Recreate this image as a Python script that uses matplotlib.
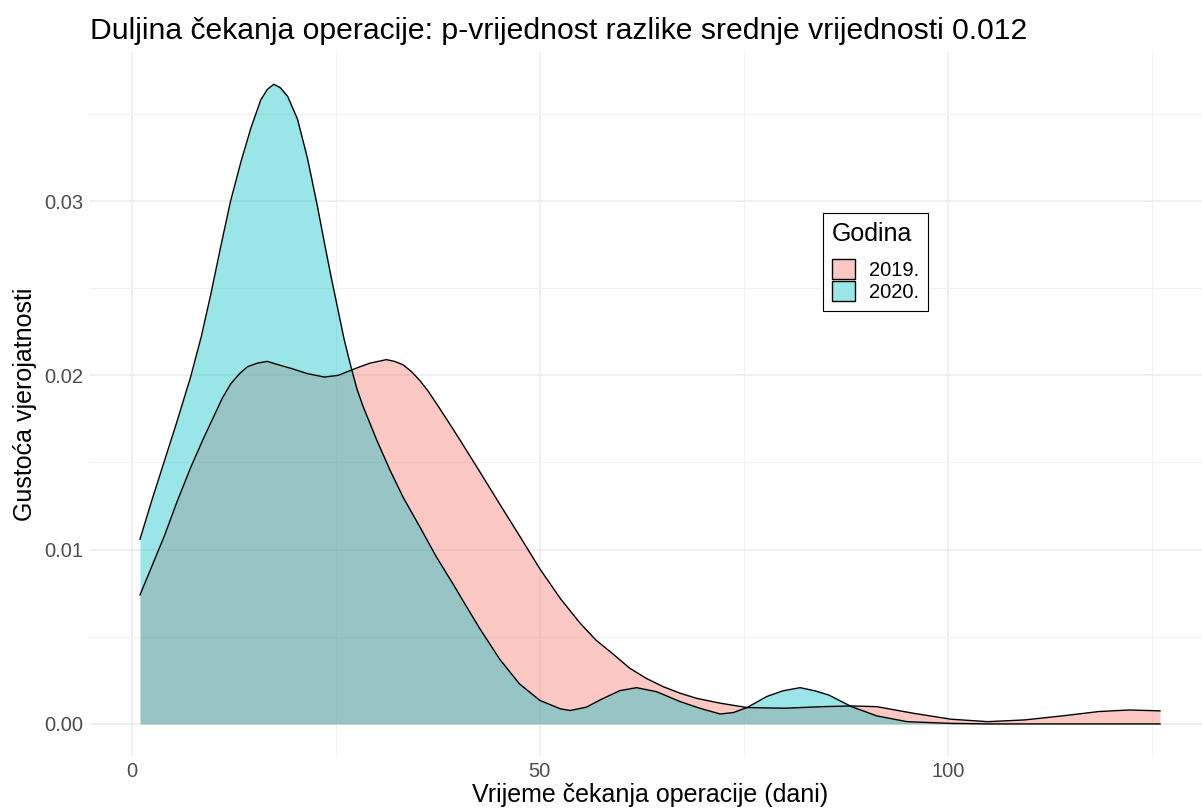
import matplotlib.pyplot as plt
from matplotlib.colors import to_rgba
from matplotlib.patches import Patch

plt.rcParams['font.family'] = ['Liberation Sans', 'DejaVu Sans']

# density curves (x = days, y = density)
x_2019 = [1, 2.5, 4, 5.5, 7.2, 8.7, 10.1, 11.1, 12.1, 13.2, 14.2, 15.4, 16.6, 18.0,
          19.5, 21.5, 23.6, 25.3, 26.9, 28.0, 29.2, 30.2, 31.2, 32.2, 33.25, 34.3,
          35.3, 36.3, 37.3, 38.7, 40.2, 42.6, 45.1, 47.5, 50, 52.5, 54.9, 56.9,
          59.0, 61.0, 63.1, 65.1, 67.2, 69.2, 72.1, 75.4, 80, 84.6, 88.2, 91.3,
          95.8, 100.4, 104.9, 109.4, 114, 118.5, 122.2, 126]
y_2019 = [0.0074, 0.0091, 0.0108, 0.0127, 0.0147, 0.0163, 0.0177, 0.0187, 0.0195,
          0.0201, 0.0205, 0.0207, 0.0208, 0.0206, 0.0204, 0.0201, 0.0199, 0.0200,
          0.0203, 0.0205, 0.0207, 0.0208, 0.0209, 0.0208, 0.0206, 0.0202, 0.0197,
          0.0191, 0.0184, 0.0174, 0.0163, 0.0145, 0.0126, 0.0108, 0.0089, 0.0072,
          0.0058, 0.0048, 0.0040, 0.0032, 0.0026, 0.00214, 0.00176, 0.00147,
          0.00119, 0.00094, 0.0009, 0.00099, 0.00103, 0.00099, 0.00061, 0.00027,
          0.00013, 0.00023, 0.00046, 0.00071, 0.0008, 0.00075]

x_2020 = [1, 2.5, 4, 5.5, 7.2, 8.5, 9.7, 10.9, 12.1, 13.4, 14.6, 15.8, 16.6, 17.4,
          18.2, 19.1, 20.3, 21.5, 22.7, 23.6, 24.4, 25.2, 26.0, 26.9, 27.6, 28.35,
          30.0, 31.6, 33.25, 35.3, 37.3, 39.4, 40.8, 42.6, 45.1, 47.5, 50, 52.5,
          53.7, 55.7, 57.4, 59.8, 61.85, 64.3, 67.2, 69.6, 72.1, 73.7, 75.4, 77.8,
          79.8, 81.9, 83.7, 85.4, 88.2, 91.3, 95, 100.4, 105, 126]
y_2020 = [0.0106, 0.0129, 0.0151, 0.0173, 0.0199, 0.0222, 0.0247, 0.0274, 0.0300,
          0.0323, 0.0342, 0.0358, 0.0364, 0.0367, 0.0365, 0.0360, 0.0347, 0.0325,
          0.0298, 0.0276, 0.0257, 0.0239, 0.0221, 0.0204, 0.0192, 0.0182, 0.0163,
          0.0146, 0.0130, 0.0113, 0.0096, 0.0080, 0.0069, 0.0055, 0.0037, 0.0023,
          0.00135, 0.00087, 0.00077, 0.00096, 0.00138, 0.00191, 0.00208, 0.00185,
          0.00128, 0.0009, 0.00057, 0.00065, 0.00094, 0.00157, 0.0019, 0.00208,
          0.0019, 0.00166, 0.00099, 0.00046, 0.00013, 0.00003, 0.0, 0.0]

labels = ['2019.', '2020.']
colors = ['#F8766D', '#00BFC4']

fig = plt.figure(figsize=(12.02, 8.09), dpi=100)
ax = fig.add_axes([89 / 1202, 1 - 756 / 809, (1211 - 89) / 1202, (756 - 52) / 809])

for xs, ys, c in [(x_2019, y_2019, colors[0]), (x_2020, y_2020, colors[1])]:
    ax.fill_between(xs, 0, ys, color=c, alpha=0.4, linewidth=0)
    ax.plot(xs, ys, color='black', linewidth=1.0, solid_joinstyle='round')

ax.set_xlim(-5.25, 132.25)
ax.set_ylim(-0.00184, 0.03855)
ax.set_xticks([0, 50, 100])
ax.set_xticks([25, 75, 125], minor=True)
ax.set_yticks([0, 0.01, 0.02, 0.03])
ax.set_yticklabels(['0.00', '0.01', '0.02', '0.03'])
ax.set_yticks([0.005, 0.015, 0.025, 0.035], minor=True)
ax.grid(True, which='major', color='#EBEBEB', linewidth=1.1)
ax.grid(True, which='minor', color='#F2F2F2', linewidth=0.8)
ax.set_axisbelow(True)
for s in ax.spines.values():
    s.set_visible(False)
ax.tick_params(which='both', length=0, labelsize=14.5, labelcolor='#4D4D4D', pad=4)

ax.set_xlabel('Vrijeme čekanja operacije (dani)', fontsize=18, labelpad=2)
ax.set_ylabel('Gustoća vjerojatnosti', fontsize=18, labelpad=5)
fig.text(90 / 1202, 1 - 31 / 809, 'Duljina čekanja operacije: p-vrijednost razlike srednje vrijednosti 0.012',
         fontsize=21.7, ha='left', va='center')

handles = [Patch(facecolor=to_rgba(c, 0.4), edgecolor='black', linewidth=1.0) for c in colors]
leg = fig.legend(handles, labels, title='Godina', loc='upper left',
                 bbox_to_anchor=(823 / 1202, 1 - 213 / 809), bbox_transform=fig.transFigure,
                 borderaxespad=0, fontsize=14.5, title_fontsize=18, alignment='left',
                 handlelength=1.12, handleheight=1.18, labelspacing=0.05,
                 handletextpad=0.7, fancybox=False, framealpha=1, borderpad=0.45)
leg._legend_box.sep = 9  # extra gap between title and keys
leg.get_frame().set_edgecolor('black')
leg.get_frame().set_linewidth(0.8)

fig.savefig('out.png', dpi=100)
